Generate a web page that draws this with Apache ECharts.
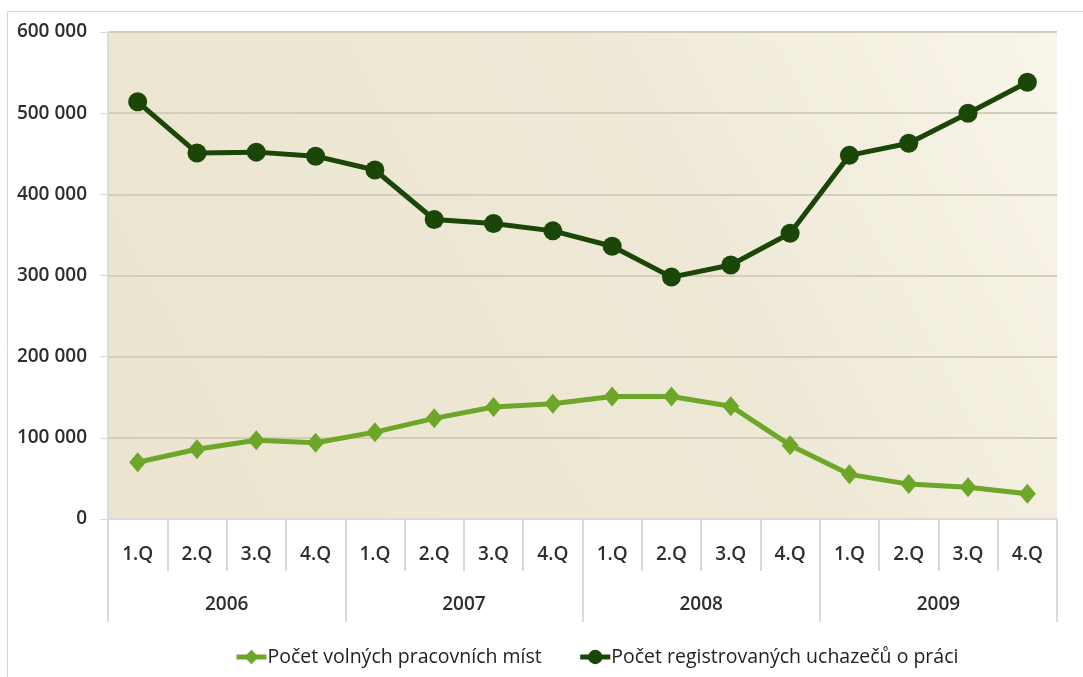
<!DOCTYPE html>
<html>
<head>
<meta charset="utf-8">
<script src="https://cdn.jsdelivr.net/npm/echarts@6/dist/echarts.min.js"></script>
<style>
  html, body { margin: 0; padding: 0; background: #fff; }
</style>
</head>
<body>
<div id="main" style="width: 1083px;height:677px;"></div>
<script type="text/javascript">
    // data
    var quarters = ['1.Q', '2.Q', '3.Q', '4.Q', '1.Q', '2.Q', '3.Q', '4.Q',
                    '1.Q', '2.Q', '3.Q', '4.Q', '1.Q', '2.Q', '3.Q', '4.Q'];
    var years = ['2006', '2007', '2008', '2009'];
    var volnaMista = [70000, 86000, 97000, 94000, 107000, 124000, 138000, 142000,
                      151000, 151000, 139000, 91000, 55000, 43000, 39000, 31000];
    var uchazeci = [514000, 451000, 452000, 447000, 430000, 369000, 364000, 355000,
                    336000, 298000, 313000, 352000, 448000, 463000, 500000, 538000];
    var nazvy = ['Počet volných pracovních míst', 'Počet registrovaných uchazečů o práci'];

    var myChart = echarts.init(document.getElementById('main'));

    var font = 'Open Sans, Liberation Sans, sans-serif';
    var edge = '#DADADA';
    var labelStyle = { fontFamily: font, fontSize: 19, fontWeight: 600, color: '#2E2E2E' };

    var option = {
        backgroundColor: '#fff',
        animation: false,
        graphic: [{
            type: 'rect',
            shape: { x: 7.5, y: 11.5, width: 1100, height: 700 },
            style: { fill: 'none', stroke: '#D4D4D4', lineWidth: 1 },
            silent: true,
            z: -10
        }],
        grid: {
            left: 108, right: 26, top: 32, bottom: 158,
            show: true,
            borderWidth: 0,
            backgroundColor: new echarts.graphic.LinearGradient(0, 1, 1, 0, [
                { offset: 0, color: '#EBE5CF' },
                { offset: 0.6, color: '#EEE9D6' },
                { offset: 1, color: '#F9F5EA' }
            ])
        },
        legend: {
            top: 642,
            left: 229,
            itemGap: 36,
            itemWidth: 30,
            itemHeight: 18,
            lineStyle: { width: 5 },
            textStyle: { fontFamily: font, fontSize: 19.5, color: '#222', padding: [0, 0, 0, -4] },
            data: nazvy
        },
        xAxis: [{
            type: 'category',
            data: quarters,
            boundaryGap: true,
            axisLine: { show: true, lineStyle: { color: edge, width: 2 } },
            axisTick: { show: true, interval: 0, length: 52, lineStyle: { color: edge, width: 2 } },
            axisLabel: Object.assign({ interval: 0, margin: 26 }, labelStyle),
            splitLine: { show: false }
        }, {
            type: 'category',
            data: years,
            position: 'bottom',
            boundaryGap: true,
            axisLine: { show: false },
            axisTick: { show: true, interval: 0, length: 103, lineStyle: { color: edge, width: 2 } },
            axisLabel: Object.assign({ interval: 0, margin: 76 }, labelStyle),
            splitLine: { show: false }
        }],
        yAxis: {
            type: 'value',
            min: 0,
            max: 600000,
            interval: 100000,
            axisLine: { show: true, lineStyle: { color: edge, width: 2 } },
            axisTick: { show: true, length: 8, lineStyle: { color: edge, width: 1 } },
            axisLabel: Object.assign({
                margin: 21,
                formatter: function (v) { return v === 0 ? '0' : (v / 1000) + ' 000'; }
            }, labelStyle),
            splitLine: { lineStyle: { color: '#D3CDBB', width: 2 } }
        },
        series: [{
            name: nazvy[0],
            type: 'line',
            data: volnaMista,
            symbol: 'diamond',
            symbolSize: [17, 20],
            lineStyle: { color: '#6EA62A', width: 5 },
            itemStyle: { color: '#6EA62A' },
            z: 3
        }, {
            name: nazvy[1],
            type: 'line',
            data: uchazeci,
            symbol: 'circle',
            symbolSize: 19,
            lineStyle: { color: '#1A4608', width: 5 },
            itemStyle: { color: '#1A4608' },
            z: 4
        }]
    };
    myChart.setOption(option);
</script>
</body>
</html>
